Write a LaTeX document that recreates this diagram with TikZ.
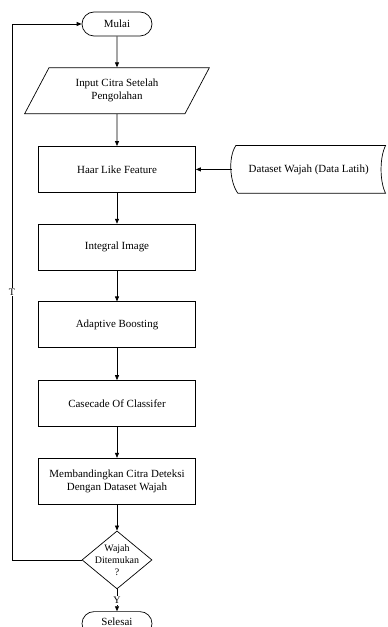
\documentclass[tikz,border=0pt]{standalone}
\usepackage{fontspec}
\setmainfont{Liberation Serif}
\usetikzlibrary{positioning, arrows.meta, shapes.geometric}

\begin{document}
\begin{tikzpicture}[x=1bp, y=-1bp, >={Triangle[length=5bp,width=4bp]}, line width=0.7bp,
        node distance=31bp,
        every node/.style={font=\fontsize{11}{13}\selectfont},
        proses/.style={draw, rectangle, minimum width=157bp, minimum height=46bp, align=center, inner sep=2bp},
        terminal/.style={draw, rectangle, rounded corners=12bp, minimum width=70bp, minimum height=24bp},
        masukan/.style={draw, trapezium, trapezium left angle=60, trapezium right angle=120,
            trapezium stretches=true, minimum width=185bp, minimum height=46bp, align=center, inner sep=2bp},
        keputusan/.style={draw, diamond, minimum width=70bp, minimum height=58bp, inner sep=0bp},
        label/.style={fill=white, inner sep=1bp, font=\fontsize{10}{12}\selectfont}]
        \useasboundingbox (0,0) rectangle (387,627);
        \node[terminal] (mulai) at (117,24) {Mulai};
        \node[masukan] (input) [below = of mulai] {Input Citra Setelah\\Pengolahan};
        \node[proses] (haar) [below = 32bp of input] {Haar Like Feature};
        \node[proses] (integral) [below = of haar] {Integral Image};
        \node[proses] (adaboost) [below = of integral] {Adaptive Boosting};
        \node[proses] (cascade) [below = 32bp of adaboost] {Casecade Of Classifer};
        \node[proses] (banding) [below = of cascade] {Membandingkan Citra Deteksi\\Dengan Dataset Wajah};
        \node[keputusan] (cek) [below = 26bp of banding] {};
        \node[align=center, font=\fontsize{10}{12}\selectfont] (cekteks) at (cek) {Wajah\\Ditemukan\\?};
        \node[terminal, text depth=3bp] (selesai) [below = 22bp of cek] {Selesai};
        \node[minimum width=153bp, minimum height=47bp] (dataset) [right = 36bp of haar] {Dataset Wajah (Data Latih)};
        % bentuk data tersimpan
        \draw ([xshift=4bp]dataset.north west) -- (dataset.north east)
            .. controls +(-6,12) and +(-6,-12) .. (dataset.south east)
            -- ([xshift=6bp]dataset.south west)
            .. controls +(-8,-11) and +(-8,12) .. ([xshift=4bp]dataset.north west) -- cycle;
        \draw[->] (mulai) -- (input);
        \draw[->] (input) -- (haar);
        \draw[->] (dataset.west) -- (haar.east);
        \draw[->] (haar) -- (integral);
        \draw[->] (integral) -- (adaboost);
        \draw[->] (adaboost) -- (cascade);
        \draw[->] (cascade) -- (banding);
        \draw[->] (banding) -- (cek);
        \draw[->] (cek) -- node[label] {Y} (selesai);
        \draw[->] (cek.west) -- (cek.west -| 12,0) |- node[label, pos=0.25] {T} (mulai.west);
    \end{tikzpicture}
\end{document}
